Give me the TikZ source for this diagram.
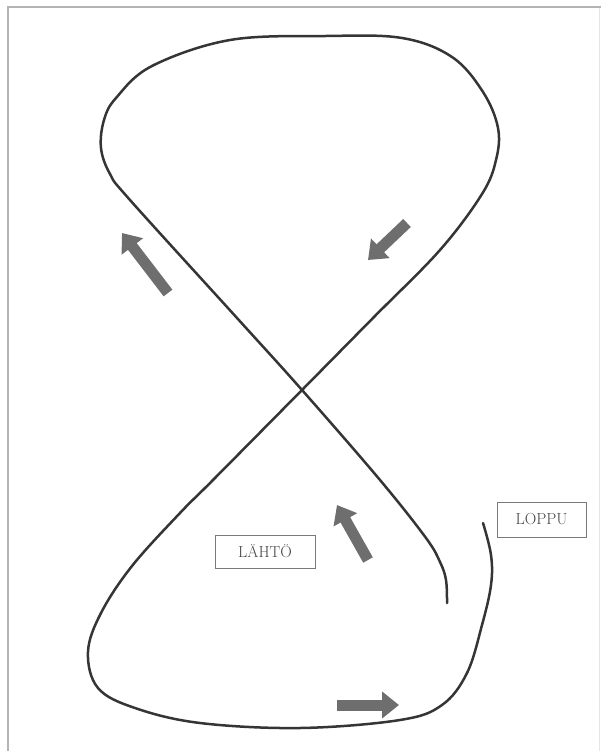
\documentclass[tikz,border=0pt]{standalone}
\usetikzlibrary{arrows.meta}
\definecolor{pathline}{HTML}{353535}
\definecolor{arrowfill}{HTML}{6E6E6E}
\definecolor{frameedge}{HTML}{B4B4B4}
\definecolor{labedge}{HTML}{7A7A7A}
\definecolor{labtext}{HTML}{454545}

\begin{document}
\begin{tikzpicture}[x=1pt, y=-1pt,
  route/.style={draw=pathline, line width=2.5pt, line cap=round, line join=round},
  dir/.style={draw=arrowfill, line width=11pt, -{Triangle[width=26pt, length=17pt]}},
  lab/.style={rectangle, draw=labedge, line width=1pt, text=labtext,
              minimum height=33pt, inner sep=0pt, font=\fontsize{16}{19}\selectfont},
  frm/.style={draw=frameedge, line width=1.6pt},
]
\useasboundingbox (0,0) rectangle (601,751);
% page frame (scan edge)
\draw[frm] (8,751) -- (8,7) -- (601,7);
\draw[frm, draw opacity=0.35] (599.5,7) -- (599.5,751);
% figure-eight route, start end -> loop -> finish end
\draw[route] plot[smooth, tension=0.6] coordinates {
  (447,603) (446,580) (440,562) (426,538) (380,480) (302,390) (237,318)
  (130,200) (110,174) (101,148) (104,120) (116,98) (152,66) (230,40)
  (326,36) (402,38) (452,57) (483,92) (498,128) (496,160) (482,194)
  (440,250) (373,318) (302,390) (213,480) (180,513) (132,566) (101,613)
  (88,652) (98,688) (135,708) (200,723) (300,728) (400,720) (442,705)
  (467,673) (482,625) (491,585) (491,555) (483,523)};
% direction arrows (tail -> tip)
\coordinate (a1s) at (168,293); \coordinate (a1e) at (122,233);
\coordinate (a2s) at (407,223); \coordinate (a2e) at (368,260);
\coordinate (a3s) at (368,560); \coordinate (a3e) at (337,505);
\coordinate (a4s) at (337,705); \coordinate (a4e) at (399,705);
\foreach \n in {1,2,3,4}
  \draw[dir] (a\n s) -- (a\n e);
% labels
\node[lab, minimum width=100pt] (start) at (265,551.5) {LÄHTÖ};
\node[lab, minimum width=89pt, minimum height=35pt] (finish) at (541.5,519.5) {LOPPU};
\end{tikzpicture}
\end{document}
